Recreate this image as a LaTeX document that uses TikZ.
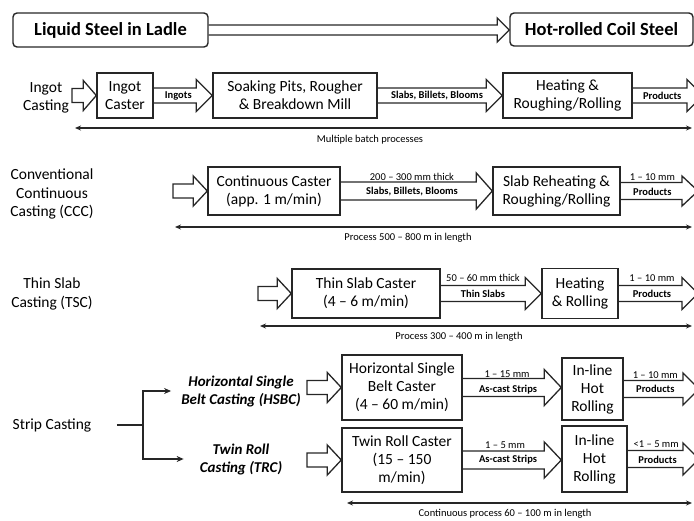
\documentclass[tikz,border=0pt]{standalone}
\usepackage{fontspec}
\setmainfont{Carlito}
\usetikzlibrary{calc,arrows.meta}
% block arrow, open at its tail
\newcommand{\openarrow}[5]{%
  \draw[blk] let \p1=(#1), \p2=(#2) in
    (\x1,\y1+#3) -- (\x2-#5,\y1+#3) -- (\x2-#5,\y1+#4) -- (\x2,\y1)
    -- (\x2-#5,\y1-#4) -- (\x2-#5,\y1-#3) -- (\x1,\y1-#3);}
% block arrow, closed at its tail
\newcommand{\closedarrow}[5]{%
  \draw[blk] let \p1=(#1), \p2=(#2) in
    (\x1,\y1+#3) -- (\x2-#5,\y1+#3) -- (\x2-#5,\y1+#4) -- (\x2,\y1)
    -- (\x2-#5,\y1-#4) -- (\x2-#5,\y1-#3) -- (\x1,\y1-#3) -- cycle;}
\begin{document}
\begin{tikzpicture}[x=1pt,y=-1pt,
  box/.style={draw=black!85,line width=1.4pt,align=center,inner sep=0pt,
    font=\fontsize{15.5}{18}\selectfont},
  tbox/.style={draw=black!85,line width=1.4pt,rounded corners=4pt,inner sep=0pt,
    font=\bfseries\fontsize{18.5}{22}\selectfont},
  lab/.style={align=center,font=\fontsize{15.5}{18.5}\selectfont},
  ilab/.style={align=center,font=\bfseries\itshape\fontsize{15}{18}\selectfont},
  blk/.style={draw=black!85,line width=1.3pt,line join=miter},
  inl/.style={font=\bfseries\fontsize{10.5}{12}\selectfont},
  upl/.style={anchor=base,font=\fontsize{10.5}{12}\selectfont},
  len/.style={font=\fontsize{10.5}{12}\selectfont},
  dbl/.style={draw=black!85,line width=1.2pt,{Stealth[length=6pt,width=5pt]}-{Stealth[length=6pt,width=5pt]}},
  conn/.style={draw=black!85,line width=1.3pt,-{Stealth[length=7pt,width=6pt]}},
  cline/.style={draw=black!85,line width=1.3pt}
]
\useasboundingbox (0,0) rectangle (694,520);

% ---------- top row
\node[tbox,minimum width=195pt,minimum height=34pt] (ladle) at (110.5,30) {Liquid Steel in Ladle};
\node[tbox,minimum width=183pt,minimum height=33pt] (coil) at (601.5,29.5) {Hot-rolled Coil Steel};
\openarrow{ladle.east}{coil.west}{5pt}{12pt}{12pt}

% ---------- Ingot casting
\node[lab] (ingotlab) at (46,98) {Ingot\\Casting};
\coordinate (s1) at (72,95.5);
\node[box,minimum width=56pt,minimum height=45pt] (ic) at (125,95.5) {Ingot\\Caster};
\node[box,minimum width=164pt,minimum height=45pt] (soak) at (295,95.5) {Soaking Pits, Rougher\\\& Breakdown Mill};
\node[box,minimum width=129pt,minimum height=45pt] (heat1) at (567.5,95.5) {Heating \&\\Roughing/Rolling};
\coordinate (e1) at (703,95.5);
\closedarrow{s1}{ic.west}{7pt}{15pt}{13pt}
\openarrow{ic.east}{soak.west}{7.5pt}{16pt}{16pt}
\openarrow{soak.east}{heat1.west}{7.5pt}{16pt}{16pt}
\openarrow{heat1.east}{e1}{7.5pt}{16pt}{16pt}
\node[inl] (l1a) at ($(ic.east)!0.42!(soak.west)$) {Ingots};
\node[inl] (l1b) at ($(soak.east)!0.476!(heat1.west)$) {Slabs, Billets, Blooms};
\node[inl] (l1c) at ($(heat1.east)!0.42!(e1)$) {Products};
\coordinate (d1a) at (75,128);
\coordinate (d1b) at (692,128);
\draw[dbl] (d1a) -- (d1b);
\node[len] (t1) at (370,140) {Multiple batch processes};

% ---------- CCC
\node[lab] (ccclab) at (52,194) {Conventional\\Continuous\\Casting (CCC)};
\coordinate (s2) at (173,191);
\node[box,minimum width=132pt,minimum height=48pt] (cc) at (274,191) {Continuous Caster\\(app. 1 m/min)};
\node[box,minimum width=127pt,minimum height=48pt] (sr) at (556.5,191) {Slab Reheating \&\\Roughing/Rolling};
\coordinate (e2) at (698,191);
\closedarrow{s2}{cc.west}{7pt}{15pt}{14pt}
\openarrow{cc.east}{sr.west}{9pt}{18pt}{16pt}
\openarrow{sr.east}{e2}{8.5pt}{15pt}{16pt}
\node[upl] (l2a) at ($(cc.east)!0.47!(sr.west)+(0,-11)$) {200 -- 300 mm thick};
\node[inl] (l2b) at ($(cc.east)!0.47!(sr.west)+(0,1)$) {Slabs, Billets, Blooms};
\node[upl] (l2c) at ($(sr.east)!0.41!(e2)+(0,-11)$) {1 -- 10 mm};
\node[inl] (l2d) at ($(sr.east)!0.41!(e2)+(0,1)$) {Products};
\coordinate (d2a) at (175,227);
\coordinate (d2b) at (692,227);
\draw[dbl] (d2a) -- (d2b);
\node[len] (t2) at (408,238) {Process 500 -- 800 m in length};

% ---------- TSC
\node[lab] (tsclab) at (52,294) {Thin Slab\\Casting (TSC)};
\coordinate (s3) at (258,293.5);
\node[box,minimum width=148pt,minimum height=49pt] (tsc) at (366,293.5) {Thin Slab Caster\\(4 -- 6 m/min)};
\node[box,minimum width=76pt,minimum height=50pt] (heat3) at (580,293.5) {Heating\\\& Rolling};
\coordinate (e3) at (698,293.5);
\closedarrow{s3}{tsc.west}{7pt}{15pt}{14pt}
\openarrow{tsc.east}{heat3.west}{8pt}{16pt}{16pt}
\openarrow{heat3.east}{e3}{8pt}{16pt}{16pt}
\node[upl] (l3a) at ($(tsc.east)!0.42!(heat3.west)+(0,-12)$) {50 -- 60 mm thick};
\node[inl] (l3b) at ($(tsc.east)!0.42!(heat3.west)+(0,0)$) {Thin Slabs};
\node[upl] (l3c) at ($(heat3.east)!0.42!(e3)+(0,-12)$) {1 -- 10 mm};
\node[inl] (l3d) at ($(heat3.east)!0.42!(e3)+(0,0)$) {Products};
\coordinate (d3a) at (260,326);
\coordinate (d3b) at (692,326);
\draw[dbl] (d3a) -- (d3b);
\node[len] (t3) at (459,337) {Process 300 -- 400 m in length};

% ---------- Strip casting
\node[lab] (strip) at (52,425) {Strip Casting};
\coordinate (branch) at (143,425);
\node[ilab,inner xsep=10pt] (hsbclab) at (241,391) {Horizontal Single\\Belt Casting (HSBC)};
\node[ilab,inner xsep=16pt] (trclab) at (241,459) {Twin Roll\\Casting (TRC)};
\draw[cline,shorten <=22pt] (strip.east) -- (branch);
\draw[conn] (branch) |- (hsbclab.west);
\draw[conn] (branch) |- (trclab.west);

\coordinate (s4a) at (307,387.5);
\coordinate (s4b) at (307,460);
\node[box,minimum width=120pt,minimum height=65pt] (hsbc) at (402,387.5) {Horizontal Single\\Belt Caster\\(4 -- 60 m/min)};
\node[box,minimum width=61pt,minimum height=62pt] (inl1) at (592.5,389) {In-line\\Hot\\Rolling};
\node[box,minimum width=120pt,minimum height=64pt] (trc) at (402,460) {Twin Roll Caster\\(15 -- 150\\m/min)};
\node[box,minimum width=65pt,minimum height=66pt] (inl2) at (594.5,459) {In-line\\Hot\\Rolling};
\coordinate (e4a) at (699,389);
\coordinate (e4b) at (699,459);
\closedarrow{s4a}{hsbc.west}{7pt}{15pt}{14pt}
\closedarrow{s4b}{trc.west}{7pt}{15pt}{14pt}
\openarrow{hsbc.east}{inl1.west}{9pt}{18pt}{17pt}
\openarrow{inl1.east}{e4a}{8.5pt}{16pt}{16pt}
\openarrow{trc.east}{inl2.west}{9pt}{18pt}{17pt}
\openarrow{inl2.east}{e4b}{8.5pt}{16pt}{16pt}
\node[upl] (l4a) at ($(hsbc.east)!0.45!(inl1.west)+(0,-11)$) {1 -- 15 mm};
\node[inl] (l4b) at ($(hsbc.east)!0.46!(inl1.west)+(0,1)$) {As-cast Strips};
\node[upl] (l4c) at ($(inl1.east)!0.42!(e4a)+(0,-11)$) {1 -- 10 mm};
\node[inl] (l4d) at ($(inl1.east)!0.42!(e4a)+(0,0)$) {Products};
\node[upl] (l4e) at ($(trc.east)!0.43!(inl2.west)+(0,-11.5)$) {1 -- 5 mm};
\node[inl] (l4f) at ($(trc.east)!0.46!(inl2.west)+(0,0)$) {As-cast Strips};
\node[upl] (l4g) at ($(inl2.east)!0.40!(e4b)+(0,-11.5)$) {<1 -- 5 mm};
\node[inl] (l4h) at ($(inl2.east)!0.42!(e4b)+(0,1)$) {Products};
\coordinate (d4a) at (347,503);
\coordinate (d4b) at (692,503);
\draw[dbl] (d4a) -- (d4b);
\node[len] (t4) at (505,514) {Continuous process 60 -- 100 m in length};
\end{tikzpicture}
\end{document}
